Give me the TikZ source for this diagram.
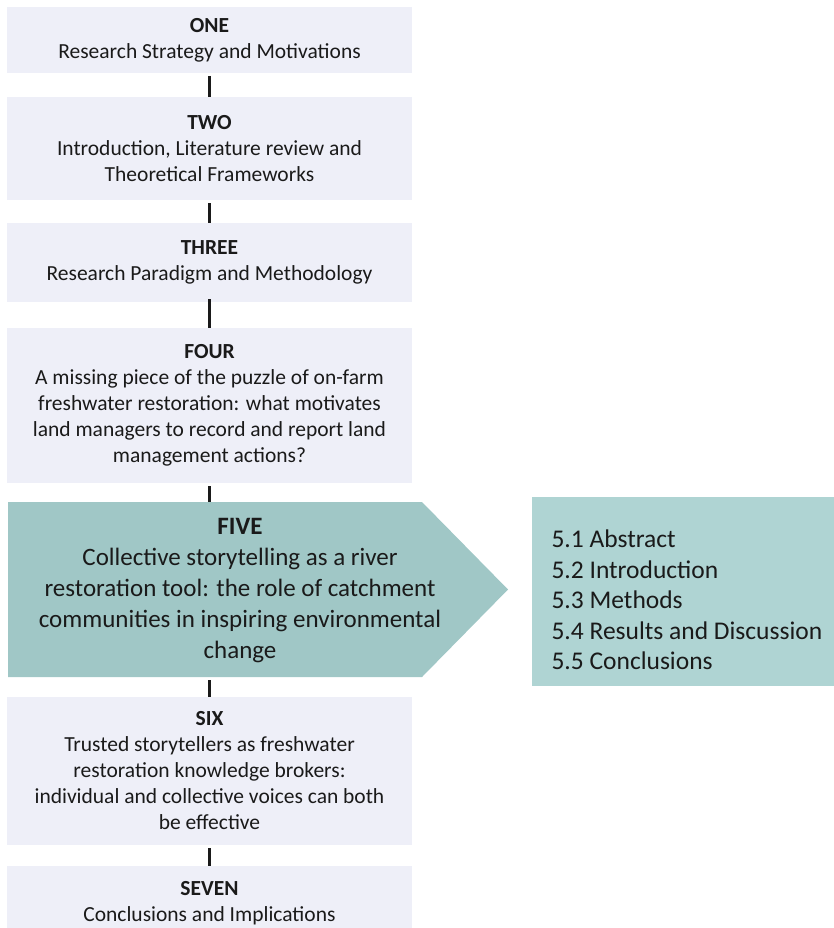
\documentclass[tikz,border=0pt]{standalone}
\usepackage{fontspec}
\setmainfont{Carlito}
\definecolor{chapfill}{HTML}{EEEFF8}
\definecolor{fivefill}{HTML}{A0C7C6}
\definecolor{tocfill}{HTML}{AFD4D3}
\definecolor{ink}{HTML}{1A1A1A}
\begin{document}
\begin{tikzpicture}[x=1pt,y=-1pt,
  chap/.style={fill=chapfill, minimum width=405pt, inner sep=0pt, outer sep=0pt,
    align=center, text=ink, font=\fontsize{21.5}{26}\selectfont},
  link/.style={draw=ink, line width=3pt, shorten <=3pt},
  bigtext/.style={align=center, text=ink, font=\fontsize{25}{31}\selectfont},
  toctext/.style={align=left, text=ink, font=\fontsize{25.5}{30.5}\selectfont}]
\useasboundingbox (0,0) rectangle (834,928);

% chapter boxes
\node[chap, minimum height=66pt] (one) at (209.5,40)
  {\textbf{ONE}\\Research Strategy and Motivations};
\node[chap, minimum height=103pt] (two) at (209.5,148.5)
  {\textbf{TWO}\\Introduction, Literature review and\\Theoretical Frameworks};
\node[chap, minimum height=79pt] (three) at (209.5,262.5)
  {\textbf{THREE}\\Research Paradigm and Methodology};
\node[chap, minimum height=155pt] (four) at (209.5,405.5)
  {\textbf{FOUR}\\A missing piece of the puzzle of on-farm\\freshwater restoration: what motivates\\land managers to record and report land\\management actions?};

% chapter five: pentagon arrow
\fill[fivefill] (8,502) -- (422,502) -- (508,589.5) -- (422,677) -- (8,677) -- cycle;
\coordinate (fivetop) at (209.5,502);
\coordinate (fivebot) at (209.5,677);
\node[bigtext] (five) at (240,591)
  {\textbf{FIVE}\\Collective storytelling as a river\\restoration tool: the role of catchment\\communities in inspiring environmental\\change};

\node[chap, minimum height=148pt] (six) at (209.5,771)
  {\textbf{SIX}\\Trusted storytellers as freshwater\\restoration knowledge brokers:\\individual and collective voices can both\\be effective};
\node[chap, minimum height=74pt] (seven) at (209.5,903)
  {\textbf{SEVEN}\\Conclusions and Implications};

% sections of chapter five
\node[fill=tocfill, minimum width=302pt, minimum height=189pt, inner sep=0pt] (toc) at (683,591.5) {};
\node[toctext, anchor=west] (toclist) at (548,600)
  {5.1 Abstract\\5.2 Introduction\\5.3 Methods\\5.4 Results and Discussion\\5.5 Conclusions};

% connectors
\draw[link] (one.south) -- (two.north);
\draw[link] (two.south) -- (three.north);
\draw[link] (three.south) -- (four.south |- three.south) -- (four.north);
\draw[link] (four.south) -- (fivetop);
\draw[link] (fivebot) -- (six.north);
\draw[link] (six.south) -- (seven.north);
\end{tikzpicture}
\end{document}
